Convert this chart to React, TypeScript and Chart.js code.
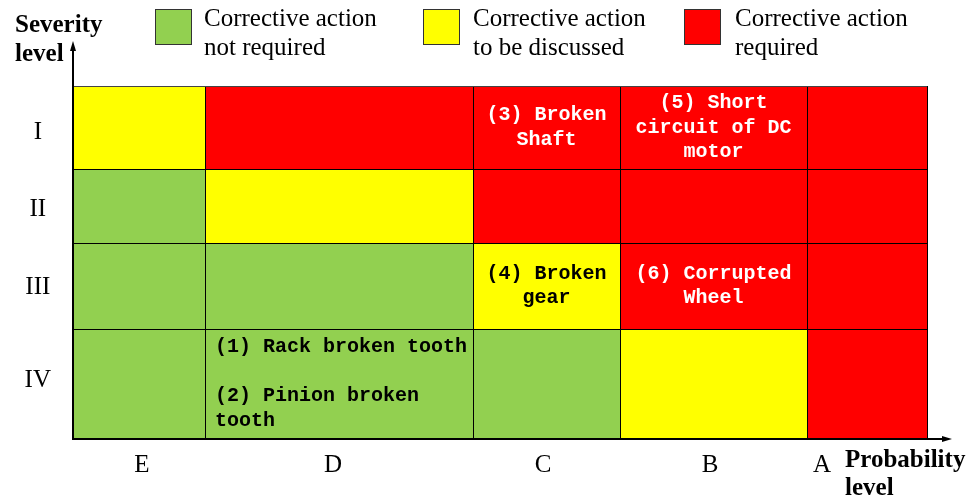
import React, { useEffect, useRef } from 'react';
import { Chart, registerables } from 'chart.js';

Chart.register(...registerables);

// ---------- data ----------
const probabilityLevels = ['E', 'D', 'C', 'B', 'A'];
const severityLevels = ['I', 'II', 'III', 'IV'];

// class boundaries on the probability axis (E .. A, left to right)
const probabilityEdges = [0, 132, 400, 547, 734, 854];
const probabilityAxisMax = 879;
// class boundaries on the severity axis (top of I, I/II, II/III, III/IV, bottom of IV)
const severityEdges = [353, 270, 196, 110, 0];
const severityAxisMax = 398;

// where each class label sits on its axis
const probabilityTickPos = [69, 260, 470, 637, 749];
const severityTickPos = [307, 230, 152, 59];

const riskClasses = ['low', 'medium', 'high'];
const legendLabels = [
  ['Corrective action', 'not required'],
  ['Corrective action', 'to be discussed'],
  ['Corrective action', 'required'],
];

// rows I..IV, columns E..A
const riskGrid = [
  ['medium', 'high', 'high', 'high', 'high'],
  ['low', 'medium', 'high', 'high', 'high'],
  ['low', 'low', 'medium', 'high', 'high'],
  ['low', 'low', 'low', 'medium', 'high'],
];

const failureModes = [
  { severity: 'I', probability: 'C', lines: ['(3) Broken', 'Shaft'], align: 'center' },
  { severity: 'I', probability: 'B', lines: ['(5) Short', 'circuit of DC', 'motor'], align: 'center' },
  { severity: 'III', probability: 'C', lines: ['(4) Broken', 'gear'], align: 'center' },
  { severity: 'III', probability: 'B', lines: ['(6) Corrupted', 'Wheel'], align: 'center' },
  { severity: 'IV', probability: 'D', lines: ['(1) Rack broken tooth', '', '(2) Pinion broken', 'tooth'], align: 'left' },
];

// ---------- styles ----------
const fillFor: Record<string, string> = { low: '#92D050', medium: '#FFFF00', high: '#FF0000' };
const textFor: Record<string, string> = { low: '#000000', medium: '#000000', high: '#FFFFFF' };
const SERIF = '"Liberation Serif", "Times New Roman", serif';
const MONO = '"Liberation Mono", "Courier New", monospace';

const matrixPlugin = {
  id: 'riskMatrix',
  afterDraw(chart: any) {
    const { ctx, scales } = chart;
    const xs = scales.x;
    const ys = scales.y;
    const px = (v: number) => xs.getPixelForValue(v);
    const py = (v: number) => ys.getPixelForValue(v);
    ctx.save();

    // cells
    severityLevels.forEach((_, r) => {
      probabilityLevels.forEach((__, c) => {
        const x0 = Math.round(px(probabilityEdges[c]));
        const x1 = Math.round(px(probabilityEdges[c + 1]));
        const y0 = Math.round(py(severityEdges[r]));
        const y1 = Math.round(py(severityEdges[r + 1]));
        ctx.fillStyle = fillFor[riskGrid[r][c]];
        ctx.fillRect(x0, y0, x1 - x0, y1 - y0);
      });
    });

    // cell borders
    ctx.strokeStyle = '#000000';
    ctx.lineWidth = 1;
    const top = Math.round(py(severityEdges[0]));
    const bottom = Math.round(py(severityEdges[severityEdges.length - 1]));
    const left = Math.round(px(probabilityEdges[0]));
    const right = Math.round(px(probabilityEdges[probabilityEdges.length - 1]));
    probabilityEdges.forEach((e) => {
      const x = Math.round(px(e)) + 0.5;
      ctx.beginPath();
      ctx.moveTo(x, top);
      ctx.lineTo(x, bottom);
      ctx.stroke();
    });
    severityEdges.forEach((e, i) => {
      const y = Math.round(py(e)) + 0.5;
      ctx.strokeStyle = i === 0 ? '#444444' : '#000000';
      ctx.beginPath();
      ctx.moveTo(left, y);
      ctx.lineTo(right, y);
      ctx.stroke();
    });

    // axes with arrows
    ctx.strokeStyle = '#000000';
    ctx.fillStyle = '#000000';
    ctx.lineWidth = 2;
    const ax = left;
    const ay = bottom;
    const xTip = px(probabilityAxisMax);
    const yTip = py(severityAxisMax);
    ctx.beginPath();
    ctx.moveTo(ax, ay);
    ctx.lineTo(ax, yTip + 6);
    ctx.moveTo(ax - 1, ay);
    ctx.lineTo(xTip - 6, ay);
    ctx.stroke();
    ctx.beginPath();
    ctx.moveTo(ax, yTip);
    ctx.lineTo(ax - 3, yTip + 10);
    ctx.lineTo(ax + 3, yTip + 10);
    ctx.closePath();
    ctx.fill();
    ctx.beginPath();
    ctx.moveTo(xTip, ay);
    ctx.lineTo(xTip - 10, ay - 3);
    ctx.lineTo(xTip - 10, ay + 3);
    ctx.closePath();
    ctx.fill();

    // failure modes inside cells
    ctx.font = `bold 20px ${MONO}`;
    ctx.textBaseline = 'middle';
    const lh = 24.5;
    failureModes.forEach((fm) => {
      const r = severityLevels.indexOf(fm.severity);
      const c = probabilityLevels.indexOf(fm.probability);
      const x0 = px(probabilityEdges[c]);
      const x1 = px(probabilityEdges[c + 1]);
      const yc = (py(severityEdges[r]) + py(severityEdges[r + 1])) / 2;
      ctx.fillStyle = textFor[riskGrid[r][c]];
      const n = fm.lines.length;
      fm.lines.forEach((line, i) => {
        const y = yc + (i - (n - 1) / 2) * lh;
        if (fm.align === 'center') {
          ctx.textAlign = 'center';
          ctx.fillText(line, (x0 + x1) / 2, y);
        } else {
          ctx.textAlign = 'left';
          ctx.fillText(line, x0 + 10, y);
        }
      });
    });

    // axis titles
    ctx.fillStyle = '#000000';
    ctx.textAlign = 'left';
    ctx.textBaseline = 'alphabetic';
    ctx.font = `bold 25px ${SERIF}`;
    ctx.fillText('Severity', 15, 32);
    ctx.fillText('level', 15, 61);
    ctx.fillText('Probability', 845, 467);
    ctx.fillText('level', 845, 495);

    // legend
    const boxX = [155, 423, 684];
    const textX = [204, 473, 735];
    ctx.font = `25px ${SERIF}`;
    riskClasses.forEach((cls, i) => {
      ctx.fillStyle = fillFor[cls];
      ctx.fillRect(boxX[i], 9, 37, 36);
      ctx.strokeStyle = '#333333';
      ctx.lineWidth = 1;
      ctx.strokeRect(boxX[i] + 0.5, 9.5, 36, 35);
      ctx.fillStyle = '#000000';
      ctx.fillText(legendLabels[i][0], textX[i], 26);
      ctx.fillText(legendLabels[i][1], textX[i], 55);
    });

    ctx.restore();
  },
};

export default function App() {
  const ref = useRef<HTMLCanvasElement | null>(null);
  useEffect(() => {
    if (!ref.current) return;
    const yLabels = severityLevels;
    const chart = new Chart(ref.current, {
      type: 'scatter',
      data: { datasets: [] },
      options: {
        animation: false,
        responsive: false,
        devicePixelRatio: 1,
        layout: { padding: { top: 41, right: 19, left: 0, bottom: 0 } },
        plugins: { legend: { display: false }, tooltip: { enabled: false } },
        scales: {
          x: {
            type: 'linear',
            min: 0,
            max: probabilityAxisMax,
            bounds: 'data',
            afterBuildTicks: (scale: any) => {
              scale.ticks = probabilityTickPos.map((v) => ({ value: v }));
            },
            afterFit: (scale: any) => {
              scale.height = 60;
            },
            ticks: {
              autoSkip: false,
              maxRotation: 0,
              padding: 11,
              color: '#000000',
              font: { family: SERIF, size: 25 },
              callback: (_v: any, i: number) => probabilityLevels[i],
            },
            grid: { display: false, drawTicks: false },
            border: { display: false },
          },
          y: {
            type: 'linear',
            min: 0,
            max: severityAxisMax,
            bounds: 'data',
            afterBuildTicks: (scale: any) => {
              scale.ticks = severityTickPos.map((v) => ({ value: v }));
            },
            afterFit: (scale: any) => {
              scale.width = 73;
            },
            ticks: {
              autoSkip: false,
              crossAlign: 'center',
              padding: 22,
              color: '#000000',
              font: { family: SERIF, size: 25 },
              callback: (_v: any, i: number) => yLabels[i],
            },
            grid: { display: false, drawTicks: false },
            border: { display: false },
          },
        },
      },
      plugins: [matrixPlugin],
    } as any);
    return () => chart.destroy();
  }, []);
  return (
    <div style={{ position: 'fixed', left: 0, top: 0, width: 971, height: 499, background: '#ffffff' }}>
      <canvas ref={ref} width={971} height={499} style={{ width: 971, height: 499, display: 'block' }} />
    </div>
  );
}
